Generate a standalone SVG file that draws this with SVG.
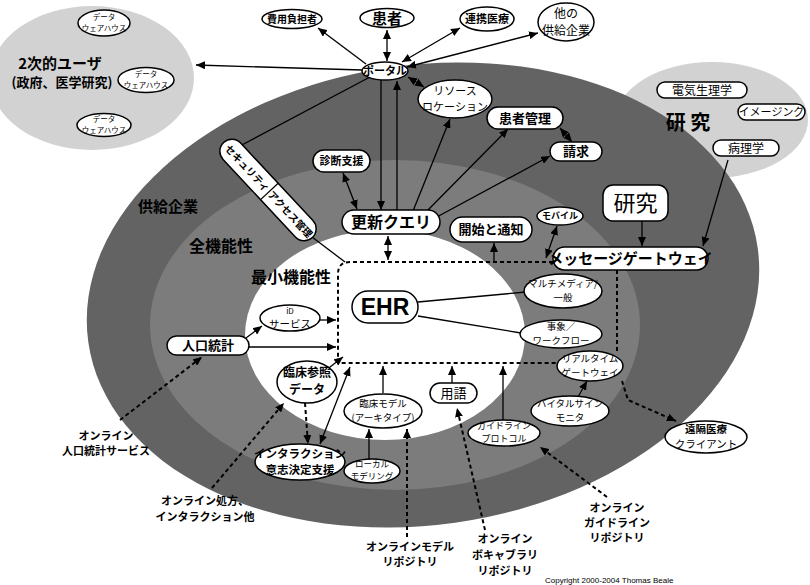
<svg xmlns="http://www.w3.org/2000/svg" width="810" height="585" viewBox="0 0 810 585">
<defs>
<marker id="ah" markerUnits="userSpaceOnUse" markerWidth="9" markerHeight="8" refX="9" refY="4" orient="auto-start-reverse"><path d="M0,0 L9,4 L0,8 z" fill="#000"/></marker>
<style>
.n{fill:#fff;stroke:#000;stroke-width:1.5}
.t{font-family:"Noto Sans CJK JP","Noto Sans",sans-serif;text-anchor:middle;fill:#000}
.b{font-weight:bold}
.l{stroke:#000;stroke-width:1.3;fill:none}
.d{stroke-dasharray:4 3}
.k{stroke-width:2}
</style>
</defs>
<rect width="810" height="585" fill="#fff"/>
<g id="background">
<ellipse cx="92" cy="78" rx="102" ry="72" fill="#d2d2d2"/>
<ellipse cx="712" cy="120" rx="96" ry="58" fill="#d2d2d2"/>
<ellipse cx="423" cy="295" rx="338" ry="230" fill="#636363" transform="rotate(-8 423 295)"/>
<ellipse cx="395" cy="325" rx="245" ry="165" fill="#7c7c7c"/>
<ellipse cx="385" cy="335" rx="140" ry="105" fill="#fff"/>
</g>
<g id="labels">
<text class="t b" x="60" y="69" font-size="15">2次的ユーザ</text>
<text class="t b" x="62" y="87" font-size="13">(政府、医学研究)</text>
<text class="t b" x="688" y="130" font-size="20">研 究</text>
<text class="t b" x="168" y="212" font-size="15">供給企業</text>
<text class="t b" x="221" y="252" font-size="16">全機能性</text>
<text class="t b" x="291" y="283" font-size="16">最小機能性</text>
<text class="t b" x="106" y="440" font-size="11">オンライン</text>
<text class="t b" x="106" y="455" font-size="11">人口統計サービス</text>
<text class="t b" x="205" y="505" font-size="11">オンライン処方、</text>
<text class="t b" x="205" y="521" font-size="11">インタラクション他</text>
<text class="t b" x="410" y="551" font-size="11">オンラインモデル</text>
<text class="t b" x="410" y="566" font-size="11">リポジトリ</text>
<text class="t b" x="505" y="543" font-size="11">オンライン</text>
<text class="t b" x="505" y="559" font-size="11">ボキャブラリ</text>
<text class="t b" x="505" y="575" font-size="11">リポジトリ</text>
<text class="t b" x="617" y="512" font-size="11">オンライン</text>
<text class="t b" x="617" y="527" font-size="11">ガイドライン</text>
<text class="t b" x="617" y="542" font-size="11">リポジトリ</text>
<text x="545" y="583" font-family="Liberation Sans,sans-serif" font-size="8" fill="#000">Copyright 2000-2004 Thomas Beale</text>
</g>
<g id="connectors">
<line class="l" x1="366" y1="64" x2="318" y2="28" marker-end="url(#ah)"/>
<line class="l" x1="387" y1="30" x2="387" y2="61" marker-start="url(#ah)" marker-end="url(#ah)"/>
<line class="l" x1="402" y1="62" x2="460" y2="28" marker-start="url(#ah)" marker-end="url(#ah)"/>
<line class="l" x1="407" y1="67" x2="538" y2="33" marker-start="url(#ah)" marker-end="url(#ah)"/>
<line class="l" x1="362" y1="70" x2="196" y2="65" marker-end="url(#ah)"/>
<line class="l" x1="370" y1="77" x2="240" y2="146"/>
<line class="l" x1="381" y1="80" x2="381" y2="210" marker-end="url(#ah)"/>
<line class="l" x1="397" y1="210" x2="397" y2="81" marker-end="url(#ah)"/>
<line class="l" x1="408" y1="77" x2="424" y2="87" marker-start="url(#ah)" marker-end="url(#ah)"/>
<line class="l" x1="343" y1="173" x2="357" y2="209" marker-start="url(#ah)" marker-end="url(#ah)"/>
<line class="l" x1="413" y1="211" x2="450" y2="119" marker-end="url(#ah)"/>
<line class="l" x1="425" y1="213" x2="508" y2="129" marker-end="url(#ah)"/>
<line class="l" x1="435" y1="218" x2="550" y2="156" marker-end="url(#ah)"/>
<line class="l" x1="560" y1="128" x2="572" y2="142" marker-start="url(#ah)" marker-end="url(#ah)"/>
<line class="l" x1="642" y1="221" x2="642" y2="246" marker-end="url(#ah)"/>
<line class="l" x1="728" y1="160" x2="703" y2="246" marker-end="url(#ah)"/>
<line class="l" x1="388" y1="236" x2="388" y2="260" marker-start="url(#ah)" marker-end="url(#ah)"/>
<line class="l" x1="312" y1="237" x2="345" y2="262"/>
<path class="l d k" d="M553,262 L350,262 Q338,262 338,274 L338,363 L557,363"/>
<line class="l" x1="494" y1="262" x2="494" y2="243" marker-end="url(#ah)"/>
<line class="l" x1="546" y1="258" x2="557" y2="226" marker-start="url(#ah)" marker-end="url(#ah)"/>
<line class="l" x1="418" y1="302" x2="526" y2="292"/>
<line class="l" x1="418" y1="316" x2="521" y2="333"/>
<line class="l d k" x1="617" y1="270" x2="617" y2="352"/>
<polyline class="l d k" points="622,381 628,400 676,421" marker-end="url(#ah)"/>
<line class="l" x1="320" y1="320" x2="336" y2="320" marker-end="url(#ah)"/>
<line class="l" x1="246" y1="338" x2="262" y2="326" marker-end="url(#ah)"/>
<line class="l" x1="249" y1="347" x2="336" y2="347" marker-end="url(#ah)"/>
<line class="l" x1="330" y1="367" x2="343" y2="357" marker-end="url(#ah)"/>
<line class="l" x1="383" y1="393" x2="383" y2="366" marker-end="url(#ah)"/>
<line class="l" x1="452" y1="383" x2="452" y2="366" marker-end="url(#ah)"/>
<line class="l" x1="503" y1="421" x2="503" y2="366" marker-end="url(#ah)"/>
<line class="l" x1="578" y1="397" x2="587" y2="381" marker-end="url(#ah)"/>
<line class="l" x1="369" y1="460" x2="369" y2="429" marker-end="url(#ah)"/>
<line class="l" x1="350" y1="367" x2="320" y2="444" marker-start="url(#ah)" marker-end="url(#ah)"/>
<line class="l d k" x1="305" y1="403" x2="308" y2="444" marker-end="url(#ah)"/>
<line class="l d k" x1="212" y1="488" x2="284" y2="403" marker-end="url(#ah)"/>
<line class="l d k" x1="407" y1="537" x2="407" y2="429" marker-end="url(#ah)"/>
<line class="l d k" x1="485" y1="530" x2="457" y2="408" marker-end="url(#ah)"/>
<line class="l d k" x1="607" y1="497" x2="540" y2="447" marker-end="url(#ah)"/>
<line class="l d k" x1="120" y1="420" x2="202" y2="357" marker-end="url(#ah)"/>
</g>
<g id="n-hiyou"><ellipse class="n" cx="292" cy="19" rx="30" ry="9.5"/><text class="t b" x="292" y="23" font-size="10">費用負担者</text></g>
<g id="n-kanja"><ellipse class="n" cx="387" cy="18" rx="27" ry="9.5"/><text class="t b" x="387" y="24" font-size="15">患者</text></g>
<g id="n-renkei"><ellipse class="n" cx="487" cy="19" rx="27" ry="12"/><text class="t b" x="487" y="23" font-size="11">連携医療</text></g>
<g id="n-tano"><ellipse class="n" cx="566" cy="22" rx="28" ry="19"/><text class="t" x="566" y="18" font-size="12">他の</text><text class="t" x="566" y="35" font-size="12">供給企業</text></g>
<g id="n-portal"><ellipse class="n" cx="385" cy="71" rx="23" ry="9"/><text class="t b" x="385" y="75" font-size="11">ポータル</text></g>
<g id="n-dw1"><ellipse class="n" cx="104" cy="23" rx="26" ry="13"/><text class="t" x="104" y="20" font-size="7.5">データ</text><text class="t" x="104" y="31" font-size="7.5">ウェアハウス</text></g>
<g id="n-dw2"><ellipse class="n" cx="146" cy="80" rx="28" ry="12.5"/><text class="t" x="146" y="77" font-size="7.5">データ</text><text class="t" x="146" y="88" font-size="7.5">ウェアハウス</text></g>
<g id="n-dw3"><ellipse class="n" cx="104" cy="125" rx="27" ry="11.5"/><text class="t" x="104" y="122" font-size="7.5">データ</text><text class="t" x="104" y="133" font-size="7.5">ウェアハウス</text></g>
<g id="n-resource"><ellipse class="n" cx="455" cy="99" rx="37" ry="19"/><text class="t" x="455" y="95" font-size="11">リソース</text><text class="t" x="455" y="111" font-size="11">ロケーション</text></g>
<g id="n-kanjakanri"><rect class="n" x="487" y="107" width="76" height="22" rx="11"/><text class="t b" x="525" y="123" font-size="13">患者管理</text></g>
<g id="n-seikyu"><rect class="n" x="550" y="142" width="52" height="19" rx="9.5"/><text class="t b" x="576" y="156" font-size="13">請求</text></g>
<g id="n-kenkyu"><rect class="n" x="603" y="185" width="65" height="36" rx="10"/><text class="t" x="635.5" y="211" font-size="22">研究</text></g>
<g id="n-msg"><rect class="n" x="553" y="247" width="155" height="23" rx="11.5"/><text class="t b" x="630.5" y="264" font-size="15">メッセージゲートウェイ</text></g>
<g id="n-mobile"><ellipse class="n" cx="560" cy="216" rx="23" ry="9"/><text class="t b" x="560" y="219" font-size="9">モバイル</text></g>
<g id="n-kaishi"><rect class="n" x="450" y="217" width="82" height="25" rx="12.5"/><text class="t b" x="491" y="234" font-size="13">開始と通知</text></g>
<g id="n-koshin"><rect class="n" x="342" y="210" width="98" height="24" rx="12"/><text class="t b" x="391" y="228" font-size="16">更新クエリ</text></g>
<g id="n-shindan"><rect class="n" x="313" y="150" width="57" height="22" rx="11"/><text class="t b" x="341.5" y="165" font-size="11">診断支援</text></g>
<g id="n-security" transform="translate(268,190) rotate(47)"><rect class="n" x="-65" y="-12" width="130" height="24" rx="12"/><line class="l" x1="2" y1="-12" x2="2" y2="12"/><text class="t b" x="-30" y="4" font-size="10">セキュリティ</text><text class="t b" x="33" y="4" font-size="10">アクセス管理</text></g>
<g id="n-ehr"><rect class="n" x="352" y="291" width="66" height="32" rx="16"/><text x="385" y="315" font-family="Liberation Sans,Arial,sans-serif" font-size="23" font-weight="bold" text-anchor="middle">EHR</text></g>
<g id="n-id"><ellipse class="n" cx="290" cy="318" rx="30" ry="13"/><text class="t" x="290" y="314" font-size="8">iD</text><text class="t" x="290" y="328" font-size="10.5">サービス</text></g>
<g id="n-jinko"><rect class="n" x="167" y="336" width="82" height="19" rx="9.5"/><text class="t b" x="208" y="350" font-size="13">人口統計</text></g>
<g id="n-multi"><ellipse class="n" cx="563" cy="291" rx="39" ry="17"/><text class="t" x="563" y="287" font-size="9.5">マルチメディア/</text><text class="t" x="563" y="301" font-size="9.5">一般</text></g>
<g id="n-jisho"><ellipse class="n" cx="561" cy="334" rx="41" ry="14"/><text class="t" x="561" y="330" font-size="9.5">事象／</text><text class="t" x="561" y="344" font-size="9.5">ワークフロー</text></g>
<g id="n-realtime"><ellipse class="n" cx="590" cy="366" rx="33" ry="15"/><text class="t" x="590" y="362" font-size="9.5">リアルタイム</text><text class="t" x="590" y="376" font-size="9.5">ゲートウェイ</text></g>
<g id="n-vital"><ellipse class="n" cx="570" cy="411" rx="39" ry="15"/><text class="t" x="570" y="407" font-size="9.5">バイタルサイン</text><text class="t" x="570" y="421" font-size="9.5">モニタ</text></g>
<g id="n-guide"><ellipse class="n" cx="504" cy="433" rx="36" ry="13"/><text class="t" x="504" y="429" font-size="9">ガイドライン</text><text class="t" x="504" y="442" font-size="9">プロトコル</text></g>
<g id="n-yogo"><rect class="n" x="430" y="383" width="47" height="20" rx="10"/><text class="t" x="453.5" y="398" font-size="13">用語</text></g>
<g id="n-model"><ellipse class="n" cx="383" cy="411" rx="39" ry="17"/><text class="t" x="383" y="407" font-size="9.5">臨床モデル</text><text class="t" x="383" y="421" font-size="9.5">(アーキタイプ)</text></g>
<g id="n-local"><ellipse class="n" cx="372" cy="471" rx="28" ry="12"/><text class="t" x="372" y="467" font-size="8.5">ローカル</text><text class="t" x="372" y="479" font-size="8.5">モデリング</text></g>
<g id="n-sansho"><ellipse class="n" cx="307" cy="382" rx="30" ry="21"/><text class="t b" x="307" y="377" font-size="12">臨床参照</text><text class="t b" x="307" y="394" font-size="12">データ</text></g>
<g id="n-interaction"><ellipse class="n" cx="300" cy="462" rx="45" ry="18"/><text class="t b" x="300" y="458" font-size="11.5">インタラクション</text><text class="t b" x="300" y="474" font-size="11.5">意志決定支援</text></g>
<g id="n-enkaku"><ellipse class="n" cx="706" cy="437" rx="41" ry="16"/><text class="t b" x="706" y="433" font-size="10.5">遠隔医療</text><text class="t" x="706" y="448" font-size="10.5">クライアント</text></g>
<g id="n-denki"><rect class="n" x="657" y="82" width="90" height="16" rx="8"/><text class="t" x="702" y="95" font-size="12">電気生理学</text></g>
<g id="n-image"><rect class="n" x="738" y="104" width="67" height="16" rx="8"/><text class="t" x="771.5" y="116" font-size="11">イメージング</text></g>
<g id="n-byori"><rect class="n" x="713" y="140" width="66" height="16" rx="8"/><text class="t" x="746" y="153" font-size="12">病理学</text></g>
</svg>
